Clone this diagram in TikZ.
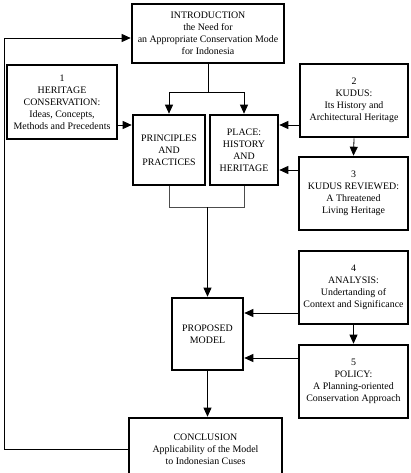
\documentclass[tikz,border=0pt]{standalone}
\usepackage{fontspec}
\setmainfont{Liberation Serif}
\usetikzlibrary{arrows.meta}
\begin{document}
\begin{tikzpicture}[x=1pt,y=-1pt,
  box/.style={draw, line width=2.6pt, align=center, inner sep=0pt,
    font=\fontsize{9.9}{12}\selectfont},
  conn/.style={line width=0.8pt},
  arr/.style={conn, -{Triangle[length=9pt,width=8pt]}}]
\useasboundingbox (0,0) rectangle (411,473);
\begin{scope}
\clip (0,0) rectangle (411,473);
\node[box, minimum width=152pt, minimum height=59pt] (intro) at (208,33.5)
  {INTRODUCTION\\the Need for\\an Appropriate Conservation Mode\\for Indonesia};
\node[box, minimum width=110pt, minimum height=74pt] (b1) at (62,102)
  {1\\HERITAGE\\CONSERVATION:\\Ideas, Concepts,\\Methods and Precedents};
\node[box, minimum width=72pt, minimum height=70pt] (prin) at (169,150)
  {PRINCIPLES\\AND\\PRACTICES};
\node[box, minimum width=68pt, minimum height=70pt] (place) at (244,150)
  {PLACE:\\HISTORY\\AND\\HERITAGE};
\node[box, minimum width=108pt, minimum height=73pt] (b2) at (354,100.5)
  {2\\KUDUS:\\Its History and\\Architectural Heritage};
\node[box, minimum width=109pt, minimum height=73pt] (b3) at (353.5,193.5)
  {3\\KUDUS REVIEWED:\\A Threatened\\Living Heritage};
\node[box, minimum width=71pt, minimum height=72pt] (prop) at (207.5,334)
  {PROPOSED\\MODEL};
\node[box, minimum width=109pt, minimum height=73pt] (b4) at (353.5,287.5)
  {4\\ANALYSIS:\\Undertanding of\\Context and Significance};
\node[box, minimum width=109pt, minimum height=73pt] (b5) at (353.5,381.5)
  {5\\POLICY:\\A Planning-oriented\\Conservation Approach};
\node[box, minimum width=153pt, minimum height=62pt, text depth=0pt] (concl) at (205.5,449)
  {CONCLUSION\\Applicability of the Model\\to Indonesian Cuses};
\end{scope}
% intro split
\draw[conn] (intro.south) -- ++(0,28) coordinate (j1);
\draw[arr] (j1) -| (prin.north);
\draw[arr] (j1) -| (place.north);
% side inputs
\draw[arr] (b1.east |- 0,125) -- (prin.west |- 0,125);
\draw[arr] (b2.west |- 0,125) -- (place.east |- 0,125);
\draw[arr] (b2.south) -- (b3.north);
\draw[arr] (b3.west |- 0,170) -- (place.east |- 0,170);
% merge
\draw[conn, black!70] (prin.south) -- ++(0,21) coordinate (j2) -- (j2 -| place.south) -- (place.south);
\draw[arr] (prop.north |- j2) -- (prop.north);
\draw[arr] (b4.west |- 0,313) -- (prop.east |- 0,313);
\draw[arr] (b4.south) -- (b5.north);
\draw[arr] (b5.west |- 0,358) -- (prop.east |- 0,358);
\draw[arr] (prop.south) -- (prop.south |- concl.north);
% feedback
\coordinate (fb) at (4,38);
\draw[arr] (concl.west) -| (fb) -- (intro.west |- fb);
\end{tikzpicture}
\end{document}
